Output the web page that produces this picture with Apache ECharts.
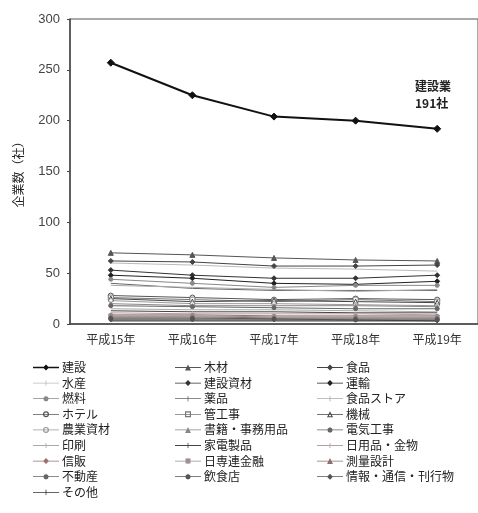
<!DOCTYPE html>
<html><head><meta charset="utf-8">
<script src="https://cdn.jsdelivr.net/npm/echarts@6/dist/echarts.min.js"></script>
<style>html,body{margin:0;padding:0;background:#fff}#c{width:478px;height:513px}</style>
</head><body><div id="c"></div>
<script>
const categories = ['平成15年','平成16年','平成17年','平成18年','平成19年'];
const yTicks = [0,50,100,150,200,250,300];
const kensetsu = [257,225,204,200,192];
const mokuzai = [70,68,65,63,62];
const shokuhin = [62,61,57,57,58];
const suisan = [60,58,55,54,52];
const kensetsuShizai = [53,48,45,45,48];
const unyu = [48,45,40,39,42];
const nenryo = [44,40,36,38,38];
const yakuhin = [40,35,33,33,33];
const shokuhinStore = [38,36,34,32,34];
const hotel = [28,26,24,25,24];
const kanKoji = [26,24,22,24,22];
const kikai = [25,22,23,22,21];
const nogyoShizai = [23,20,20,19,18];
const shoseki = [20,18,18,18,17];
const denkiKoji = [18,17,16,15,15];
const insatsu = [15,14,14,13,12];
const kaden = [13,12,12,11,11];
const nichiyohin = [11,10,10,10,9];
const shinpan = [9,9,8,8,8];
const nissenren = [8,8,7,7,7];
const sokuryo = [7,7,6,6,6];
const fudosan = [6,6,5,5,5];
const inshokuten = [5,5,5,4,4];
const joho = [4,4,4,4,3];
const sonota = [3,3,3,3,3];

const col1 = ['建設','水産','燃料','ホテル','農業資材','印刷','信販','不動産','その他'];
const col2 = ['木材','建設資材','薬品','管工事','書籍・事務用品','家電製品','日専連金融','飲食店'];
const col3 = ['食品','運輸','食品ストア','機械','電気工事','日用品・金物','測量設計','情報・通信・刊行物'];

const defs = [
 ['建設',kensetsu,'#111','diamond',2,7,false],
 ['木材',mokuzai,'#555','triangle',1,5,false],
 ['食品',shokuhin,'#444','diamond',1,5,false],
 ['水産',suisan,'#bbb','none',1,3,false],
 ['建設資材',kensetsuShizai,'#333','diamond',1,5,false],
 ['運輸',unyu,'#222','diamond',1,5,false],
 ['燃料',nenryo,'#888','circle',1,4,false],
 ['薬品',yakuhin,'#666','none',1,3,false],
 ['食品ストア',shokuhinStore,'#aaa','none',1,3,false],
 ['ホテル',hotel,'#555','circle',1,5,true],
 ['管工事',kanKoji,'#777','rect',1,5,true],
 ['機械',kikai,'#444','triangle',1,5,true],
 ['農業資材',nogyoShizai,'#999','circle',1,4,true],
 ['書籍・事務用品',shoseki,'#888','triangle',1,4,false],
 ['電気工事',denkiKoji,'#666','circle',1,4,false],
 ['印刷',insatsu,'#aaa','none',1,3,false],
 ['家電製品',kaden,'#444','none',1,3,false],
 ['日用品・金物',nichiyohin,'#b0a0a0','none',1,3,false],
 ['信販',shinpan,'#9a7070','diamond',1,4,false],
 ['日専連金融',nissenren,'#a09090','rect',1,4,false],
 ['測量設計',sokuryo,'#8a7070','triangle',1,4,false],
 ['不動産',fudosan,'#666','circle',1,4,false],
 ['飲食店',inshokuten,'#555','circle',1,4,false],
 ['情報・通信・刊行物',joho,'#555','diamond',1,4,false],
 ['その他',sonota,'#333','none',1,3,false]
];

const series = defs.map(d => ({
  name: d[0], type: 'line', data: d[1],
  symbol: d[3], symbolSize: d[5], showSymbol: d[3] !== 'none',
  lineStyle: {color: d[2], width: d[4]},
  itemStyle: {color: d[6] ? '#fff' : d[2], borderColor: d[2], borderWidth: 1},
  emphasis: {disabled: true}, animation: false,
  z: d[0] === '建設' ? 5 : 2
}));

function iconPath(shape, hollow, thick) {
  const line = thick ? 'M0,2.2H26V3.8H0Z' : 'M0,2.6H26V3.4H0Z';
  let m;
  if (shape === 'diamond') m = 'M13,0L16,3L13,6L10,3Z';
  else if (shape === 'triangle') m = hollow ? 'M13,0L16,6H10Z M13,2.2L11.6,5H14.4Z' : 'M13,0L16,6H10Z';
  else if (shape === 'circle') m = hollow ? 'M13,0A3,3 0 1,1 13,6A3,3 0 1,1 13,0Z M13,1.2A1.8,1.8 0 1,0 13,4.8A1.8,1.8 0 1,0 13,1.2Z' : 'M13,0.5A2.5,2.5 0 1,1 13,5.5A2.5,2.5 0 1,1 13,0.5Z M12.7,0H13.3V6H12.7Z';
  else if (shape === 'rect') m = hollow ? 'M10,0H16V6H10Z M11.2,1.2V4.8H14.8V1.2Z' : 'M10.5,0.5H15.5V5.5H10.5Z M12.7,0H13.3V6H12.7Z';
  else m = 'M12.6,0.5H13.4V5.5H12.6Z M12.9,0H13.1V6H12.9Z';
  return 'path://' + line + ' ' + m;
}
const defByName = {};
defs.forEach(d => defByName[d[0]] = d);
function legendData(names) {
  return names.map(n => {
    const d = defByName[n];
    return {name: n, icon: iconPath(d[3], d[6], d[4] > 1), itemStyle: {color: d[2], borderWidth: 0}};
  });
}

const legendBase = {
  orient: 'vertical', itemWidth: 26, itemHeight: 6, itemGap: 2.6,
  textStyle: {fontSize: 12, lineHeight: 13, color: '#222', fontFamily: 'Noto Sans CJK JP', padding: [0,0,0,-2]},
  padding: 0, selectedMode: false
};

const chart = echarts.init(document.getElementById('c'), null, {renderer: 'canvas'});
chart.setOption({
  animation: false,
  backgroundColor: '#fff',
  textStyle: {fontFamily: 'Noto Sans CJK JP'},
  grid: {left: 70, right: -2, top: 19, bottom: 189, show: true, borderColor: '#555', borderWidth: 1},
  xAxis: {
    type: 'category', data: categories, boundaryGap: true,
    axisLine: {lineStyle: {color: '#444', width: 1.5}},
    axisTick: {show: false},
    axisLabel: {fontSize: 12, color: '#333', margin: 9}
  },
  yAxis: {
    type: 'value', min: yTicks[0], max: yTicks[yTicks.length-1], interval: 50,
    name: '企業数（社）', nameLocation: 'middle', nameGap: 46, nameRotate: 90,
    nameTextStyle: {fontSize: 12, color: '#222'},
    axisLine: {show: true, lineStyle: {color: '#444', width: 1.5}},
    axisTick: {show: true, length: 3, lineStyle: {color: '#444'}},
    splitLine: {show: false},
    axisLabel: {fontSize: 13, color: '#444', margin: 10, fontFamily: 'Liberation Sans'}
  },
  legend: [
    Object.assign({}, legendBase, {left: 33, top: 361, data: legendData(col1)}),
    Object.assign({}, legendBase, {left: 175, top: 361, data: legendData(col2)}),
    Object.assign({}, legendBase, {left: 317, top: 361, data: legendData(col3)})
  ],
  graphic: [{
    type: 'text', left: 415, top: 78,
    style: {text: '建設業\n191社', fontSize: 12, lineHeight: 17, fill: '#222', align: 'center', fontFamily: 'Noto Sans CJK JP', fontWeight: 'bold'}
  }],
  series: series
});
</script></body></html>
